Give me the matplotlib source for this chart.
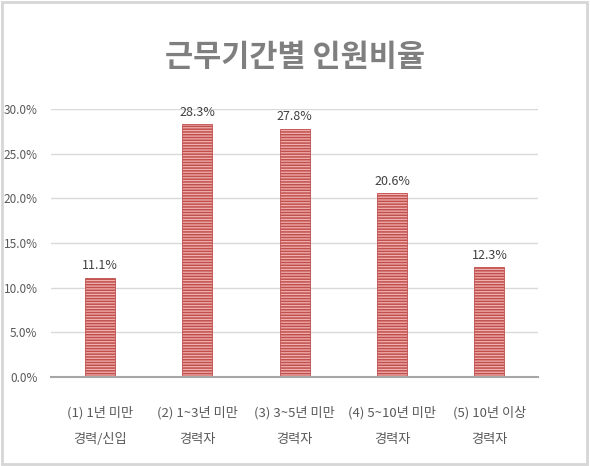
import matplotlib.pyplot as plt
from matplotlib.patches import Rectangle

plt.rcParams['font.family'] = ['Noto Sans CJK KR', 'DejaVu Sans']

categories = ['(1) 1년 미만\n경력/신입', '(2) 1~3년 미만\n경력자', '(3) 3~5년 미만\n경력자',
              '(4) 5~10년 미만\n경력자', '(5) 10년 이상\n경력자']
values = [11.1, 28.3, 27.8, 20.6, 12.3]
yticks = [0, 5, 10, 15, 20, 25, 30]

fig = plt.figure(figsize=(5.9, 4.66), dpi=100)
ax = fig.add_axes([0.087, 0.191, 0.825, 0.575])

x = range(len(values))
plt.rcParams['hatch.color'] = '#c9625f'
plt.rcParams['hatch.linewidth'] = 1.1
bars = ax.bar(x, values, width=0.31, color='#f1b0af', edgecolor='#c0504d',
              linewidth=0.6, hatch='------', zorder=3)

for xi, v in zip(x, values):
    ax.text(xi, v + 0.6, '%.1f%%' % v, ha='center', va='bottom',
            fontsize=9, color='#404040')

ax.set_xlim(-0.5, len(values) - 0.5)
ax.set_ylim(0, 30)
ax.set_yticks(yticks)
ax.set_yticklabels(['%.1f%%' % t for t in yticks], fontsize=8.5, color='#595959')
ax.set_xticks(list(x))
ax.set_xticklabels(categories, fontsize=9.5, color='#595959', linespacing=2.35)
ax.tick_params(axis='both', length=0)
ax.tick_params(axis='x', pad=21)
ax.tick_params(axis='y', pad=10)
ax.grid(axis='y', color='#d9d9d9', linewidth=1, zorder=0)
for s in ['top', 'right', 'left']:
    ax.spines[s].set_visible(False)
ax.spines['bottom'].set_color('#a6a6a6')
ax.spines['bottom'].set_linewidth(1.5)
ax.spines['bottom'].set_zorder(4)

fig.text(0.5, 0.877, '근무기간별 인원비율', ha='center', va='center',
         fontsize=22, fontweight='bold', color='#7f7f7f')

fig.patches.append(Rectangle((0.003, 0.004), 0.992, 0.992, transform=fig.transFigure,
                             fill=False, edgecolor='#d6d6d6', linewidth=2))

fig.savefig('out.png', dpi=100)
